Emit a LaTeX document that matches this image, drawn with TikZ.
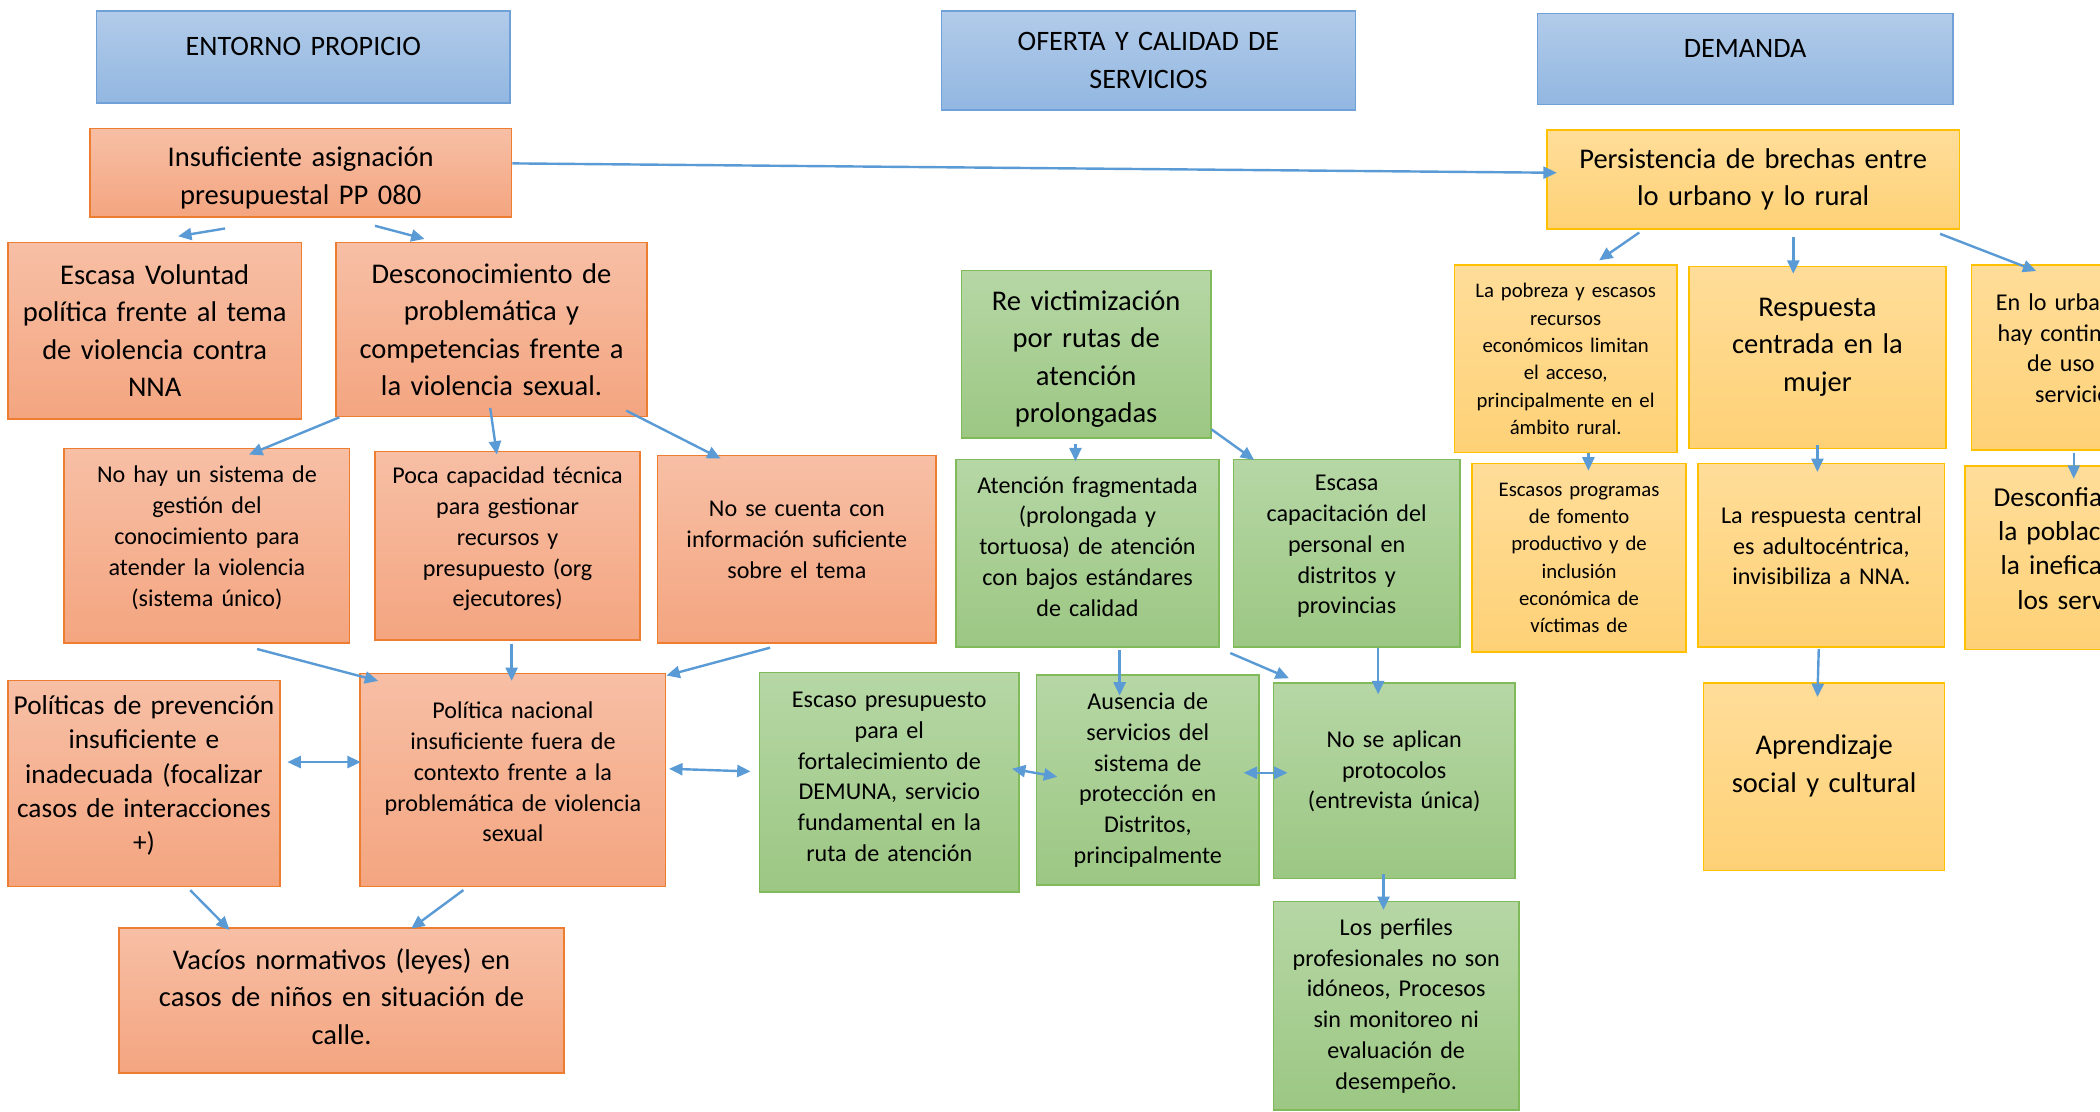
\documentclass[tikz,border=0pt]{standalone}
\usepackage{fontspec}
\setmainfont{Carlito}
\usetikzlibrary{arrows.meta}

\definecolor{hdtop}{RGB}{178,203,233}
\definecolor{hdbot}{RGB}{146,183,225}
\definecolor{hdline}{RGB}{111,160,216}
\definecolor{ortop}{RGB}{247,191,165}
\definecolor{orbot}{RGB}{244,165,128}
\definecolor{orline}{RGB}{237,125,49}
\definecolor{grtop}{RGB}{182,215,165}
\definecolor{grbot}{RGB}{156,199,131}
\definecolor{grline}{RGB}{128,186,90}
\definecolor{yetop}{RGB}{255,221,153}
\definecolor{yebot}{RGB}{254,209,118}
\definecolor{yeline}{RGB}{255,192,0}
\definecolor{lnblue}{RGB}{91,155,213}

\newcommand{\fhead}{\fontsize{21}{28}\selectfont}
\newcommand{\fbig}{\fontsize{21.3}{28}\selectfont}
\newcommand{\fmid}{\fontsize{20.4}{25.6}\selectfont}
\newcommand{\fmed}{\fontsize{18}{23}\selectfont}
\newcommand{\fsml}{\fontsize{15.5}{20.4}\selectfont}

\begin{document}
\begin{tikzpicture}[x=1pt,y=-1pt,
  wh/.style 2 args={minimum width=#1pt,minimum height=#2pt,text width=#1pt-8pt},
  base/.style={draw,line width=1.2pt,inner sep=0pt,align=center},
  head/.style={base,draw=hdline,top color=hdtop,bottom color=hdbot,font=\fhead},
  obox/.style={base,draw=orline,top color=ortop,bottom color=orbot},
  gbox/.style={base,draw=grline,top color=grtop,bottom color=grbot},
  ybox/.style={base,draw=yeline,top color=yetop,bottom color=yebot},
  lift/.style={execute at end node={\endgraf\kern#1pt}},
  arr/.style={draw=lnblue,line width=1.8pt,-{Triangle[length=10pt,width=9pt]}},
  darr/.style={draw=lnblue,line width=1.8pt,{Triangle[length=10pt,width=9pt]}-{Triangle[length=10pt,width=9pt]}}]
\useasboundingbox (0,0) rectangle (1568,830);
\clip (0,0) rectangle (1568,830);

% headers
\node[head,wh={309}{69},lift=16] (hent) at (226.5,42.5) {ENTORNO PROPICIO};
\node[head,wh={309}{74}] (hofe) at (857.5,45) {OFERTA Y CALIDAD DE\\SERVICIOS};
\node[head,wh={310}{68},lift=16] (hdem) at (1303,44) {DEMANDA};

% entorno propicio
\node[obox,wh={315}{66},font=\fbig,lift=-8] (insuf) at (224.5,129) {Insuficiente asignación\\presupuestal PP 080};
\node[obox,wh={219}{132},font=\fbig] (volun) at (115.5,247) {Escasa Voluntad\\política frente al tema\\de violencia contra\\NNA};
\node[obox,wh={232}{130},font=\fbig] (desco) at (367,246) {Desconocimiento de\\problemática y\\competencias frente a\\la violencia sexual.};
\node[obox,wh={213}{145},font=\fmed,lift=12] (sisge) at (154.5,407.5) {No hay un sistema de\\gestión del\\conocimiento para\\atender la violencia\\(sistema único)};
\node[obox,wh={198}{141},font=\fmed,lift=10] (capte) at (379,407.5) {Poca capacidad técnica\\para gestionar\\recursos y\\presupuesto (org\\ejecutores)};
\node[obox,wh={208}{140},font=\fmed,lift=14] (infor) at (595,410) {No se cuenta con\\información suficiente\\sobre el tema};
\node[obox,wh={203}{154},font=\fmid,lift=12] (preve) at (107.5,585) {Políticas de prevención\\insuficiente e\\inadecuada (focalizar\\casos de interacciones\\+)};
\node[obox,wh={228}{159},font=\fmed,lift=12] (polna) at (383,582.5) {Política nacional\\insuficiente fuera de\\contexto frente a la\\problemática de violencia\\sexual};
\node[obox,wh={332}{108},font=\fbig,lift=6] (vacio) at (255,747) {Vacíos normativos (leyes) en\\casos de niños en situación de\\calle.};

% oferta y calidad de servicios
\node[gbox,wh={186}{125},font=\fbig,lift=-7] (revic) at (811,264.5) {Re victimización\\por rutas de\\atención\\prolongadas};
\node[gbox,wh={196}{140},font=\fmed,lift=10] (fragm) at (812,413) {Atención fragmentada\\(prolongada y\\tortuosa) de atención\\con bajos estándares\\de calidad};
\node[gbox,wh={169}{140},font=\fmed,lift=10] (capac) at (1005.5,413) {Escasa\\capacitación del\\personal en\\distritos y\\provincias};
\node[gbox,wh={194}{164},font=\fmed,lift=8] (demun) at (664,584) {Escaso presupuesto\\para el\\fortalecimiento de\\DEMUNA, servicio\\fundamental en la\\ruta de atención};
\node[gbox,wh={166}{157},font=\fmed] (ausen) at (857,582.5) {Ausencia de\\servicios del\\sistema de\\protección en\\Distritos,\\principalmente};
\node[gbox,wh={180}{146},font=\fmed,lift=14] (proto) at (1041,583) {No se aplican\\protocolos\\(entrevista única)};
\node[gbox,wh={183}{156},font=\fmed] (perfi) at (1042.5,751) {Los perfiles\\profesionales no son\\idóneos, Procesos\\sin monitoreo ni\\evaluación de\\desempeño.};

% demanda
\node[ybox,wh={308}{74},font=\fbig] (brech) at (1309,134) {Persistencia de brechas entre\\lo urbano y lo rural};
\node[ybox,wh={166}{140},font=\fsml] (pobre) at (1169,268) {La pobreza y escasos\\recursos\\económicos limitan\\el acceso,\\principalmente en el\\ámbito rural.};
\node[ybox,wh={192}{136},font=\fbig,lift=16] (mujer) at (1357,267) {Respuesta\\centrada en la\\mujer};
\node[ybox,wh={158}{138},font=\fmed,lift=14] (urban) at (1551,267) {En lo urbano no\\hay continuidad\\de uso de\\servicios};
\node[ybox,wh={160}{141},font=\fsml] (progr) at (1179,416.5) {Escasos programas\\de fomento\\productivo y de\\inclusión\\económica de\\víctimas de};
\node[ybox,wh={184}{137},font=\fmed,lift=14] (adult) at (1360,414.5) {La respuesta central\\es adultocéntrica,\\invisibiliza a NNA.};
\node[ybox,wh={180}{137},font=\fmid,lift=14] (confi) at (1557,416.5) {Desconfianza de\\la población en\\la ineficacia de\\los servicios};
\node[ybox,wh={180}{140},font=\fbig,lift=16] (apren) at (1362,580) {Aprendizaje\\social y cultural};

% arrows
\draw[arr] ([shift={(0,-7)}]insuf.east) -- ([shift={(8,-5)}]brech.west);
\draw[arr] ([shift={(-56.5,8)}]insuf.south) -- ([shift={(17.5,-4)}]volun.north);
\draw[arr] ([shift={(55.5,6)}]insuf.south) -- ([shift={(-50,-2)}]desco.north);
\draw[arr] ([shift={(3,0)}]desco.south west) -- ([shift={(31.5,5)}]sisge.north);
\draw[arr] ([shift={(-1,-7)}]desco.south) -- ([shift={(-8,3)}]capte.north);
\draw[arr] ([shift={(-16,-5)}]desco.south east) -- ([shift={(-57,3)}]infor.north);
\draw[arr] ([shift={(37.5,4)}]sisge.south) -- ([shift={(14,6)}]polna.north west);
\draw[arr] ([shift={(3,2)}]capte.south) -- ([shift={(-1,6)}]polna.north);
\draw[arr] ([shift={(-20,3)}]infor.south) -- ([shift={(0,2)}]polna.north east);
\draw[darr] ([shift={(5,-16)}]preve.east) -- ([shift={(1,-13.5)}]polna.west);
\draw[darr] ([shift={(2,-8.5)}]polna.east) -- ([shift={(-6,-8)}]demun.west);
\draw[arr] ([shift={(34.5,2)}]preve.south) -- ([shift={(83,2)}]vacio.north west);
\draw[arr] ([shift={(-37,2)}]polna.south) -- ([shift={(52,1)}]vacio.north);

\draw[arr] ([shift={(-8,4)}]revic.south) -- ([shift={(-9,2)}]fragm.north);
\draw[arr] ([shift={(0,-7)}]revic.south east) -- ([shift={(16,1)}]capac.north west);
\draw[arr] ([shift={(24,2)}]fragm.south) -- ([shift={(-21,16)}]ausen.north);
\draw[arr] ([shift={(8,4)}]fragm.south east) -- ([shift={(12,-3)}]proto.north west);
\draw[arr] ([shift={(23.5,0)}]capac.south) -- ([shift={(-12,9)}]proto.north);
\draw[darr] ([shift={(-6,-10)}]demun.east) -- ([shift={(16,-2.5)}]ausen.west);
\draw[darr] ([shift={(-12,-5.5)}]ausen.east) -- ([shift={(11,-6)}]proto.west);
\draw[arr] ([shift={(-8,-4)}]proto.south) -- ([shift={(-9.5,7)}]perfi.north);

\draw[arr] ([shift={(-85,2)}]brech.south) -- ([shift={(25,-3)}]pobre.north);
\draw[arr] ([shift={(30,5)}]brech.south) -- ([shift={(-18,6)}]mujer.north);
\draw[arr] ([shift={(-15,3)}]brech.south east) -- ([shift={(49,5)}]urban.north west);
\draw[arr] ([shift={(17,0)}]pobre.south) -- ([shift={(7,6)}]progr.north);
\draw[arr] ([shift={(0,-3)}]mujer.south) -- ([shift={(-3,7)}]adult.north);
\draw[arr] ([shift={(-2,1)}]adult.south) -- ([shift={(-5,11)}]apren.north);
\draw[arr] ([shift={(77,2)}]urban.south west) -- ([shift={(82,10)}]confi.north west);
\end{tikzpicture}
\end{document}
